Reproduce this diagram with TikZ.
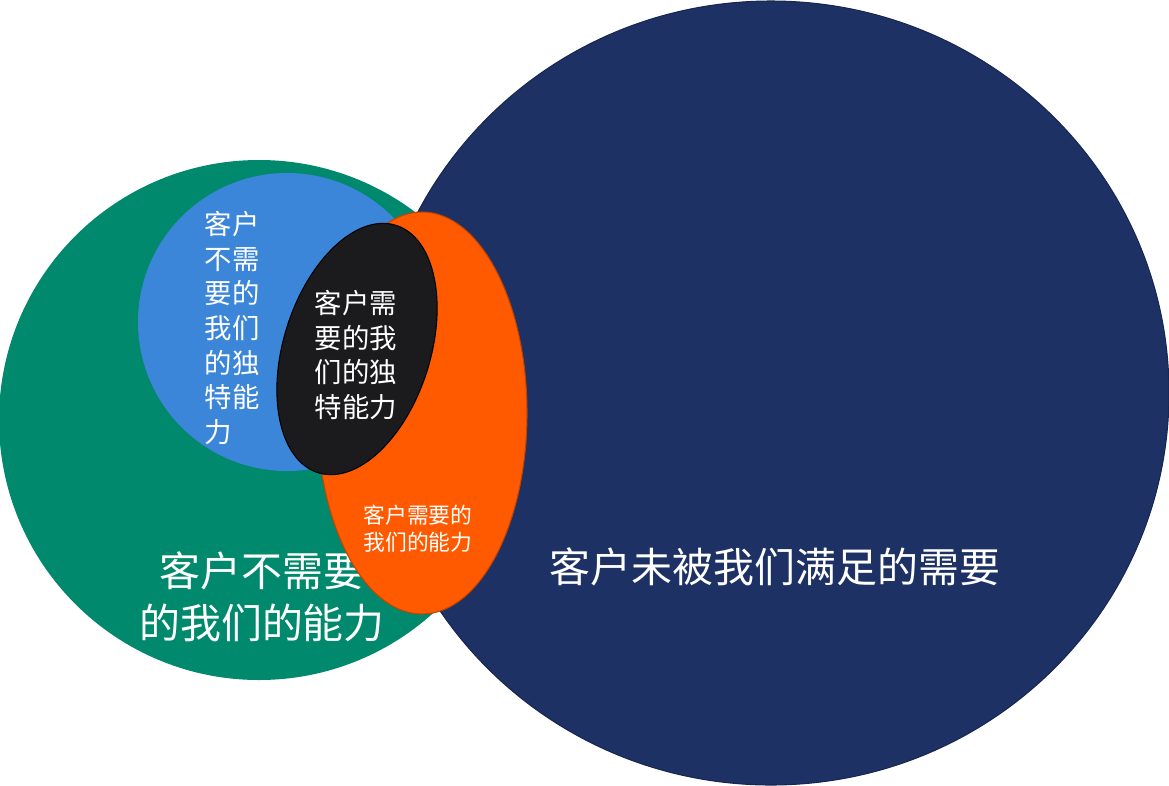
\documentclass[tikz,border=0pt]{standalone}
\usepackage{fontspec}
\newfontfamily\cjk{Noto Sans CJK SC}
\definecolor{abilitygreen}{RGB}{0,137,108}
\definecolor{uniqueblue}{RGB}{59,134,217}
\definecolor{needsnavy}{RGB}{29,49,100}
\definecolor{neededorange}{RGB}{255,90,0}
\definecolor{coreblack}{RGB}{27,27,29}
\tikzset{
  whitetext/.style={text=white, inner sep=0pt, align=center},
  bigtext/.style={whitetext, font=\cjk\fontsize{23.3}{29.5}\selectfont},
  midtext/.style={whitetext, font=\cjk\fontsize{15.6}{19.7}\selectfont},
  smalltext/.style={whitetext, font=\cjk\fontsize{12.4}{15.3}\selectfont}
}

\begin{document}
\begin{tikzpicture}[x=0.02cm, y=-0.02cm]
 \useasboundingbox (0,0) rectangle (1169,785);
 % abilities the customer does not need
 \fill[abilitygreen] (259,420) circle [radius=260];
 \fill[uniqueblue] (287,322) circle [radius=149];
 \node[bigtext] (notneeded) at (262,597) {客户不需要\\的我们的能力};
 \node[midtext, align=left] (uniquenotneeded) at (232,328)
   {客户\\不需\\要的\\我们\\的独\\特能\\力};
 % unmet needs
 \filldraw[fill=needsnavy, draw=needsnavy!80!black, line width=0.6pt]
   (771,393) ellipse [x radius=398, y radius=392];
 \node[bigtext] (unmet) at (775,567) {客户未被我们满足的需要};
 % abilities the customer needs
 \filldraw[fill=neededorange, draw=neededorange!75!black, line width=0.6pt]
   (422,413) ellipse [x radius=105, y radius=201];
 \node[smalltext] (needed) at (418,529) {客户需要的\\我们的能力};
 \filldraw[fill=coreblack, draw=black, line width=0.6pt, rotate around={-17.5:(357,349)}]
   (357,349) ellipse [x radius=73.4, y radius=129.7];
 \node[midtext] (uniqueneeded) at (356,355) {客户需\\要的我\\们的独\\特能力};
\end{tikzpicture}
\end{document}
